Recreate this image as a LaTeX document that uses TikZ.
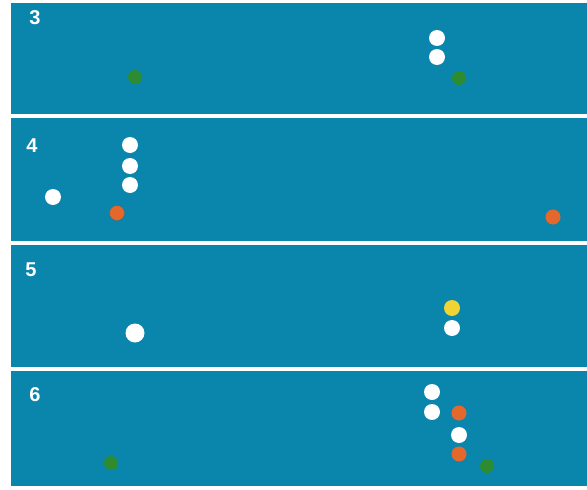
\documentclass[tikz,border=0pt]{standalone}
\usepackage{fontspec}
\setmainfont{Liberation Sans}
\definecolor{pool}{RGB}{10,133,172}
\definecolor{ballgreen}{RGB}{46,140,48}
\definecolor{ballorange}{RGB}{228,104,44}
\definecolor{ballyellow}{RGB}{240,212,52}
\begin{document}
\begin{tikzpicture}[x=1pt,y=-1pt,
  panel/.style={fill=pool, draw=none},
  ball/.style={circle, inner sep=0pt, minimum size=16pt, draw=none},
  wball/.style={ball, fill=white},
  gball/.style={ball, fill=ballgreen, minimum size=14pt},
  oball/.style={ball, fill=ballorange, minimum size=15pt},
  yball/.style={ball, fill=ballyellow},
  num/.style={text=white, font=\bfseries\fontsize{20}{20}\selectfont, inner sep=0pt}]
\useasboundingbox (0,0) rectangle (587,490);
\fill[white] (0,0) rectangle (587,490);
% panels
\path[panel] (11,3) rectangle (587,114);
\path[panel] (11,118) rectangle (587,241);
\path[panel] (11,245) rectangle (587,367);
\path[panel] (11,371) rectangle (587,486);
% panel 3
\node[num] (n3) at (35,18) {3};
\node[wball] (p3w1) at (437,38) {};
\node[wball] (p3w2) at (437,57) {};
\node[gball] (p3g1) at (135,77) {};
\node[gball] (p3g2) at (459,78) {};
% panel 4
\node[num] (n4) at (32,146) {4};
\node[wball] (p4w1) at (130,145) {};
\node[wball] (p4w2) at (130,166) {};
\node[wball] (p4w3) at (130,185) {};
\node[wball] (p4w4) at (53,197) {};
\node[oball, draw=black!60, line width=0.4pt] (p4o1) at (117,213) {};
\node[oball] (p4o2) at (553,217) {};
% panel 5
\node[num] (n5) at (31,270) {5};
\node[wball, minimum size=19pt] (p5w1) at (135,333) {};
\node[yball] (p5y) at (452,308) {};
\node[wball] (p5w2) at (452,328) {};
% panel 6
\node[num] (n6) at (35,395) {6};
\node[wball] (p6w1) at (432,392) {};
\node[wball] (p6w2) at (432,412) {};
\node[oball] (p6o1) at (459,413) {};
\node[wball] (p6w3) at (459,435) {};
\node[oball] (p6o2) at (459,454) {};
\node[gball] (p6g1) at (111,463) {};
\node[gball] (p6g2) at (487,466) {};
\end{tikzpicture}
\end{document}
